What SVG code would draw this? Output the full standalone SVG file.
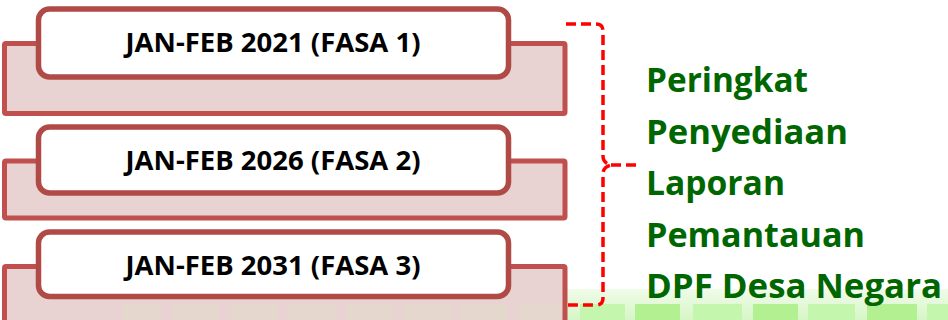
<svg xmlns="http://www.w3.org/2000/svg" width="948" height="320" viewBox="0 0 948 320">
  <defs>
    <style>
      .back { fill: #e9d3d2; stroke: #c0504d; stroke-width: 5; }
      .front { fill: #ffffff; stroke: #b04a47; stroke-width: 5.5; }
      .lbl { font-family: "Open Sans", "Liberation Sans", sans-serif; font-weight: bold; font-size: 27px; fill: #000000; text-anchor: middle; }
      .side { font-family: "Open Sans", "Liberation Sans", sans-serif; font-weight: bold; font-size: 34px; fill: #006600; }
      .brace { fill: none; stroke: #ff0000; stroke-width: 3.5; stroke-dasharray: 10 5; }
      .tileA { fill: #c4f6ae; }
      .tileB { fill: #b3f092; }
      .tileL { fill: #e4d8cc; }
    </style>
    <linearGradient id="strip" x1="0" y1="0" x2="0" y2="1">
      <stop offset="0" stop-color="#f0fce9"/>
      <stop offset="1" stop-color="#d6f6c6"/>
    </linearGradient>
  </defs>

  <rect width="948" height="320" fill="#ffffff"/>

  <!-- background strip -->
  <g id="background">
    <rect x="567" y="289" width="381" height="31" fill="url(#strip)"/>
    <rect class="tileA" x="580" y="304" width="45" height="16"/>
    <rect class="tileB" x="635" y="304" width="45" height="16"/>
    <rect class="tileA" x="693" y="304" width="49" height="16"/>
    <rect class="tileB" x="753" y="304" width="45" height="16"/>
    <rect class="tileA" x="808" y="304" width="47" height="16"/>
    <rect class="tileB" x="867" y="304" width="50" height="16"/>
    <rect class="tileA" x="927" y="304" width="21" height="16"/>
  </g>

  <g id="node-fasa1">
    <rect class="back" x="4.5" y="43.5" width="560.5" height="70" rx="1.5"/>
    <rect class="front" x="38.5" y="9" width="470" height="68" rx="11"/>
    <text class="lbl" x="273" y="52" textLength="295" lengthAdjust="spacingAndGlyphs">JAN-FEB 2021 (FASA 1)</text>
  </g>

  <g id="node-fasa2">
    <rect class="back" x="4.5" y="161" width="560.5" height="57" rx="1.5"/>
    <rect class="front" x="38.5" y="127" width="470" height="66" rx="11"/>
    <text class="lbl" x="273" y="170" textLength="295" lengthAdjust="spacingAndGlyphs">JAN-FEB 2026 (FASA 2)</text>
  </g>

  <g id="node-fasa3">
    <rect class="back" x="4.5" y="266.5" width="560.5" height="80" rx="1.5"/>
    <rect class="tileL" x="122" y="305" width="37" height="15"/>
    <rect class="tileL" x="174" y="305" width="44" height="15"/>
    <rect class="tileL" x="231" y="305" width="47" height="15"/>
    <rect class="tileL" x="289" y="305" width="46" height="15"/>
    <rect class="tileL" x="346" y="305" width="47" height="15"/>
    <rect class="tileL" x="404" y="305" width="46" height="15"/>
    <rect class="tileL" x="461" y="305" width="46" height="15"/>
    <rect class="tileL" x="520" y="305" width="41" height="15"/>
    <rect class="front" x="38.5" y="232" width="470" height="64.5" rx="11"/>
    <text class="lbl" x="273" y="275" textLength="295" lengthAdjust="spacingAndGlyphs">JAN-FEB 2031 (FASA 3)</text>
  </g>

  <g id="connectors">
    <path class="brace" d="M566,24 L596,24 Q603,24 603,31 L603,156 Q603,163 611,165 Q603,167 603,174 L603,298 Q603,305 596,305 L566,305"/>
    <path class="brace" d="M611,165 L638,165"/>
  </g>

  <g id="node-label">
    <text class="side" x="646" y="92" textLength="162" lengthAdjust="spacingAndGlyphs">Peringkat</text>
    <text class="side" x="646" y="143.5" textLength="202" lengthAdjust="spacingAndGlyphs">Penyediaan</text>
    <text class="side" x="646" y="195" textLength="139" lengthAdjust="spacingAndGlyphs">Laporan</text>
    <text class="side" x="646" y="246.5" textLength="219" lengthAdjust="spacingAndGlyphs">Pemantauan</text>
    <text class="side" x="646" y="298" textLength="296" lengthAdjust="spacingAndGlyphs">DPF Desa Negara</text>
  </g>
</svg>
